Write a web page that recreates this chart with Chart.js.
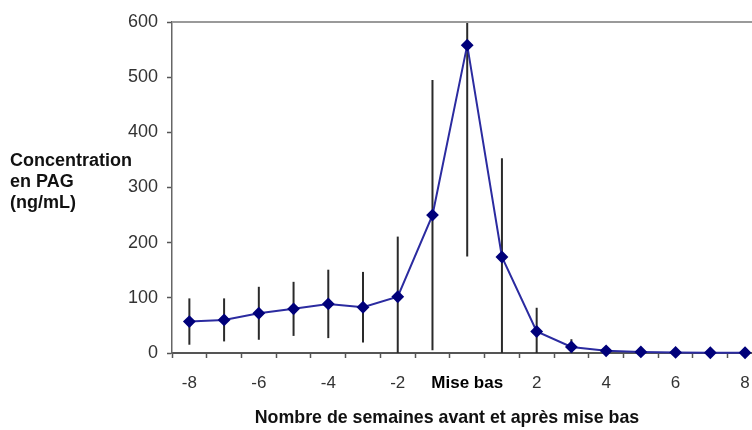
<!DOCTYPE html>
<html><head><meta charset="utf-8">
<script src="https://cdn.jsdelivr.net/npm/chart.js@4/dist/chart.umd.min.js"></script>
<style>html,body{margin:0;padding:0;background:#fff;overflow:hidden;width:752px;height:430px}</style>
</head><body>
<canvas id="c" width="759" height="430"></canvas>
<script>
// ---- data ----
const weeks = [-8,-7,-6,-5,-4,-3,-2,-1,0,1,2,3,4,5,6,7,8];
const pagMean = [57,60,72,80,89,83,102,250,558,174,39,11,4,2,1,0.5,0.5];
const pagSD   = [42,39,48,49,62,64,109,245,383,179,43,14,3,2,1,1,1];
const yTickValues = [0,100,200,300,400,500,600];
const xLabelValues = [-8,-6,-4,-2,0,2,4,6,8];
const xLabelTexts  = ['-8','-6','-4','-2','Mise bas','2','4','6','8'];
const xMinorTicks  = [-8.5,-7.5,-6.5,-5.5,-4.5,-3.5,-2.5,-1.5,-0.5,0.5,1.5,2.5,3.5,4.5,5.5,6.5,7.5];
const yTitleLines = ['Concentration','en PAG','(ng/mL)'];
const xTitle = 'Nombre de semaines avant et après mise bas';

const FONT = "'Liberation Sans', Arial, sans-serif";

const errorBars = {
  id: 'errorBars',
  beforeDatasetsDraw(chart) {
    const {ctx, chartArea: a, scales: {x, y}} = chart;
    ctx.save();
    ctx.beginPath();
    ctx.rect(a.left, a.top, a.right - a.left, a.bottom - a.top);
    ctx.clip();
    ctx.strokeStyle = '#2a2a2a';
    ctx.lineWidth = 2;
    weeks.forEach((w, i) => {
      const px = x.getPixelForValue(w);
      ctx.beginPath();
      ctx.moveTo(px, y.getPixelForValue(pagMean[i] + pagSD[i]));
      ctx.lineTo(px, y.getPixelForValue(pagMean[i] - pagSD[i]));
      ctx.stroke();
    });
    ctx.restore();
  }
};

const frameAndTitles = {
  id: 'frameAndTitles',
  afterDraw(chart) {
    const {ctx, chartArea: a} = chart;
    ctx.save();
    ctx.strokeStyle = '#9a9a9a';
    ctx.lineWidth = 2;
    ctx.beginPath();
    ctx.moveTo(a.left, a.top);
    ctx.lineTo(chart.width, a.top);
    ctx.stroke();
    ctx.fillStyle = '#111';
    ctx.font = 'bold 18px ' + FONT;
    ctx.textBaseline = 'middle';
    ctx.textAlign = 'left';
    yTitleLines.forEach((t, i) => ctx.fillText(t, 10, 161 + i * 21));
    ctx.textAlign = 'center';
    ctx.font = 'bold 17.8px ' + FONT;
    ctx.fillText(xTitle, 447, 418);
    ctx.restore();
  }
};

new Chart(document.getElementById('c'), {
  type: 'line',
  data: {
    datasets: [{
      data: weeks.map((w, i) => ({x: w, y: pagMean[i]})),
      borderColor: '#2b2ba0',
      borderWidth: 2,
      pointStyle: 'rectRot',
      pointRadius: 5,
      pointHoverRadius: 5,
      pointBackgroundColor: '#00007a',
      pointBorderColor: '#00007a',
      tension: 0,
      clip: false
    }]
  },
  options: {
    responsive: false,
    animation: false,
    layout: {padding: {top: 22, right: 0, bottom: 0, left: 0}},
    plugins: {legend: {display: false}, tooltip: {enabled: false}},
    scales: {
      x: {
        type: 'linear',
        min: -8.5,
        max: 8.2,
        afterBuildTicks(s) {
          s.ticks = [...xMinorTicks, ...xLabelValues].sort((a, b) => a - b).map(v => ({value: v}));
        },
        afterFit(s) { s.height = 77; s.paddingLeft = 0; s.paddingRight = 0; },
        ticks: {
          autoSkip: false,
          maxRotation: 0,
          padding: 15,
          callback(v) {
            const k = xLabelValues.indexOf(v);
            return k >= 0 ? xLabelTexts[k] : '';
          },
          font(c) {
            return (c.tick && c.tick.value === 0)
              ? {family: FONT, size: 17, weight: 'bold'}
              : {family: FONT, size: 17};
          },
          color(c) { return (c.tick && c.tick.value === 0) ? '#000' : '#333'; }
        },
        grid: {
          drawOnChartArea: false,
          tickLength: 5,
          tickWidth: 1.5,
          tickColor(c) { return (c.tick && Number.isInteger(c.tick.value)) ? 'rgba(0,0,0,0)' : '#555'; }
        },
        border: {color: '#555', width: 2}
      },
      y: {
        min: 0,
        max: 600,
        afterBuildTicks(s) { s.ticks = yTickValues.map(v => ({value: v})); },
        afterFit(s) { s.width = 172; },
        ticks: {
          padding: 9,
          font: {family: FONT, size: 18},
          color: '#333'
        },
        grid: {drawOnChartArea: false, tickLength: 5, tickWidth: 1.5, tickColor: '#555'},
        border: {color: '#666', width: 1.5}
      }
    }
  },
  plugins: [errorBars, frameAndTitles]
});
</script>
</body></html>
